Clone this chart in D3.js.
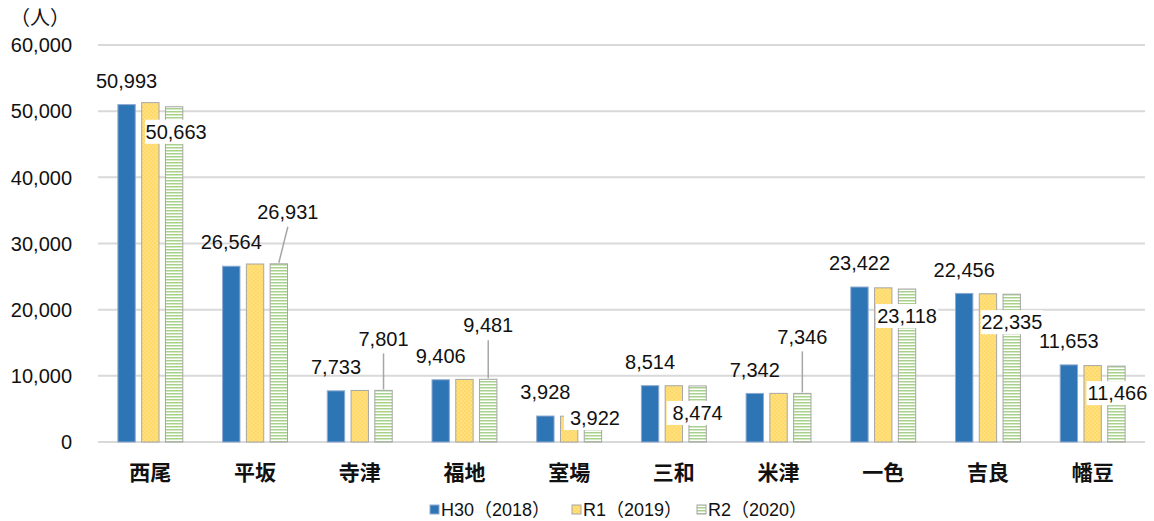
<!DOCTYPE html>
<html>
<head>
<meta charset="utf-8">
<script src="https://cdn.jsdelivr.net/npm/d3@7"></script>
<style>
body { margin: 0; background: #fff; }
svg { display: block; }
.num { font-family: "Liberation Sans", Arial, sans-serif; font-size: 20px; fill: #111; }
.cat { font-family: "Noto Sans CJK JP", sans-serif; font-size: 21px; font-weight: bold; fill: #111; }
.leg { font-family: "Liberation Sans", "Noto Sans CJK JP", sans-serif; font-size: 18px; fill: #111; }
</style>
</head>
<body>
<div id="main"></div>
<script>
// data
var categories = ['西尾', '平坂', '寺津', '福地', '室場', '三和', '米津', '一色', '吉良', '幡豆'];
var seriesNames = ['H30（2018）', 'R1（2019）', 'R2（2020）'];
var h30 = [50993, 26564, 7733, 9406, 3928, 8514, 7342, 23422, 22456, 11653];
var r1  = [51290, 26900, 7790, 9460, 3900, 8500, 7350, 23300, 22400, 11550];
var r2  = [50663, 26931, 7801, 9481, 3922, 8474, 7346, 23118, 22335, 11466];
var yTicks = [0, 10000, 20000, 30000, 40000, 50000, 60000];

// label placement for R2 values (offset from bar top, leader line or boxed)
var r2Place = [
  {dx: 2, dy: 25, box: true},
  {dx: 9, dy: -52, line: true},
  {dx: 0, dy: -52, line: true},
  {dx: 0, dy: -54, line: true},
  {dx: 2, dy: 2, box: true},
  {dx: 0, dy: 27, box: true},
  {dx: 0, dy: -57, line: true},
  {dx: 0, dy: 27, box: true},
  {dx: 0, dy: 28, box: true},
  {dx: 1, dy: 27, box: true}
];

var W = 1154, H = 521;
var svg = d3.select('#main').append('svg').attr('width', W).attr('height', H);

var defs = svg.append('defs');
var dots = defs.append('pattern').attr('id', 'dots').attr('patternUnits', 'userSpaceOnUse')
  .attr('width', 4).attr('height', 4);
dots.append('rect').attr('width', 4).attr('height', 4).attr('fill', '#FFD966');
dots.append('circle').attr('cx', 1).attr('cy', 1).attr('r', 0.7).attr('fill', '#FFEFB8');
dots.append('circle').attr('cx', 3).attr('cy', 3).attr('r', 0.7).attr('fill', '#FFEFB8');

var stripes = defs.append('pattern').attr('id', 'stripes').attr('patternUnits', 'userSpaceOnUse')
  .attr('width', 4).attr('height', 3);
stripes.append('rect').attr('width', 4).attr('height', 3).attr('fill', '#fff');
stripes.append('rect').attr('y', 0).attr('width', 4).attr('height', 1.5).attr('fill', '#A9D18E');

var fills = ['#2E75B6', 'url(#dots)', 'url(#stripes)'];
var strokes = ['#8FAAD0', '#A6A6A6', '#A6A6A6'];

var x0 = d3.scaleBand().domain(categories).range([98, 1145]).paddingInner(0.38).paddingOuter(0.19);
var x1 = d3.scaleBand().domain(seriesNames).range([0, x0.bandwidth()]).paddingInner(0.27);
var y = d3.scaleLinear().domain([0, 60000]).range([442, 45]);

// grid
svg.append('g').selectAll('line').data(yTicks).enter().append('line')
  .attr('x1', 98).attr('x2', 1145)
  .attr('y1', function(d) { return y(d); }).attr('y2', function(d) { return y(d); })
  .attr('stroke', '#D9D9D9').attr('stroke-width', 2);

// y axis labels
svg.append('g').selectAll('text').data(yTicks).enter().append('text')
  .attr('class', 'num')
  .attr('x', 72).attr('y', function(d) { return y(d); })
  .attr('dy', '0.36em').attr('text-anchor', 'end')
  .text(function(d) { return d3.format(',')(d); });

svg.append('text').attr('class', 'leg').style('font-size', '20px')
  .attr('x', 10).attr('y', 25).text('（人）');

// bars
var allSeries = [h30, r1, r2];
var groups = svg.append('g').selectAll('g').data(categories).enter().append('g')
  .attr('transform', function(d) { return 'translate(' + x0(d) + ',0)'; });

groups.selectAll('rect').data(function(d, i) {
  return allSeries.map(function(s, k) { return {k: k, v: s[i]}; });
}).enter().append('rect')
  .attr('x', function(d) { return x1(seriesNames[d.k]); })
  .attr('width', x1.bandwidth())
  .attr('y', function(d) { return y(d.v); })
  .attr('height', function(d) { return y(0) - y(d.v); })
  .attr('fill', function(d) { return fills[d.k]; })
  .attr('stroke', function(d) { return strokes[d.k]; })
  .attr('stroke-width', 1);

// H30 labels
groups.append('text').attr('class', 'num')
  .attr('x', function(d) { return x1(seriesNames[0]) + x1.bandwidth() / 2; })
  .attr('y', function(d, i) { return y(h30[i]) - 24; })
  .attr('dy', '0.36em').attr('text-anchor', 'middle')
  .text(function(d, i) { return d3.format(',')(h30[i]); });

// R2 labels
groups.each(function(d, i) {
  var g = d3.select(this);
  var p = r2Place[i];
  var cx = x1(seriesNames[2]) + x1.bandwidth() / 2;
  var top = y(r2[i]);
  var lx = cx + p.dx, ly = top + p.dy;
  var txt = d3.format(',')(r2[i]);
  if (p.line) {
    g.append('line').attr('x1', cx).attr('y1', top - 1)
      .attr('x2', lx).attr('y2', ly + 15)
      .attr('stroke', '#A6A6A6').attr('stroke-width', 1.5);
  }
  if (p.box) {
    g.append('rect').attr('x', lx - 31).attr('y', ly - 12).attr('width', 62).attr('height', 24)
      .attr('fill', '#fff');
  }
  g.append('text').attr('class', 'num')
    .attr('x', lx).attr('y', ly).attr('dy', '0.36em').attr('text-anchor', 'middle')
    .text(txt);
});

// category labels
svg.append('g').selectAll('text').data(categories).enter().append('text')
  .attr('class', 'cat')
  .attr('x', function(d) { return x0(d) + x0.bandwidth() / 2; })
  .attr('y', 472).attr('dy', '0.36em').attr('text-anchor', 'middle')
  .text(function(d) { return d; });

// legend
var legX = [430, 572, 697];
var leg = svg.append('g').selectAll('g').data(seriesNames).enter().append('g')
  .attr('transform', function(d, i) { return 'translate(' + legX[i] + ',510)'; });
leg.append('rect').attr('x', 0).attr('y', -5).attr('width', 9).attr('height', 9)
  .attr('fill', function(d, i) { return fills[i]; })
  .attr('stroke', function(d, i) { return strokes[i]; });
leg.append('text').attr('class', 'leg').attr('x', 11).attr('y', 0).attr('dy', '0.36em')
  .text(function(d) { return d; });
</script>
</body>
</html>
